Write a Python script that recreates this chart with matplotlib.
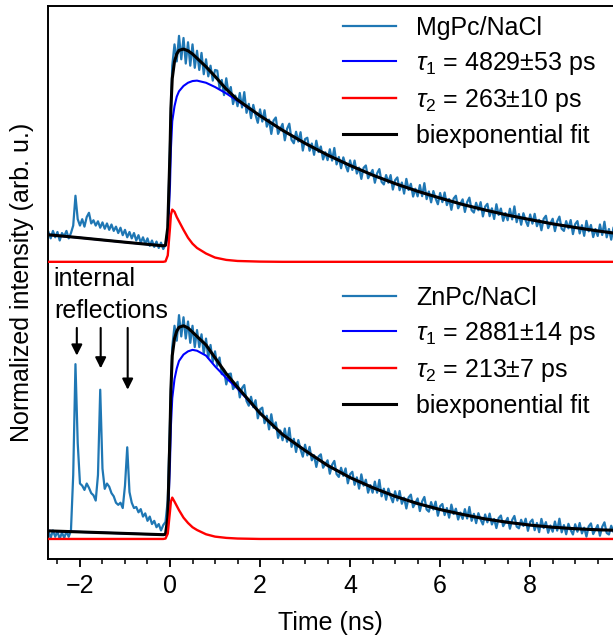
"""Time-resolved fluorescence of MgPc/NaCl and ZnPc/NaCl with biexponential fits."""

import matplotlib

matplotlib.use("Agg")
import matplotlib.pyplot as plt
import numpy as np

plt.rcParams["font.family"] = ["Liberation Sans", "DejaVu Sans"]
plt.rcParams["mathtext.fontset"] = "custom"
plt.rcParams["mathtext.rm"] = "Liberation Sans"
plt.rcParams["mathtext.it"] = "Liberation Sans:italic"
plt.rcParams["font.size"] = 18
plt.rcParams["path.simplify"] = False

STEP = 0.05  # ns per data channel
PRE_START, PEAK_START, DECAY_START = -2.70, -0.05, 1.05
OFFSET_MGPC = 1.30  # vertical offset of upper trace

# --- measured traces (normalized intensity), three consecutive segments ---
MGPC_PRE = [
    0.14, 0.11, 0.145, 0.115, 0.14, 0.10, 0.135, 0.12, 0.145, 0.11,
    0.135, 0.17, 0.31, 0.20, 0.17, 0.20, 0.165, 0.21, 0.23, 0.18,
    0.195, 0.17, 0.19, 0.16, 0.185, 0.155, 0.18, 0.15, 0.175, 0.145,
    0.165, 0.135, 0.16, 0.125, 0.15, 0.115, 0.14, 0.11, 0.135, 0.10,
    0.125, 0.09, 0.115, 0.085, 0.11, 0.075, 0.10, 0.07, 0.095, 0.065,
    0.09, 0.06, 0.08,
]
MGPC_PEAK = [
    0.15, 0.55, 0.92, 1.02, 0.94, 1.06, 0.95, 1.05, 0.93, 1.03,
    0.92, 1.02, 0.91, 0.99, 0.90, 0.98, 0.88, 0.95, 0.87, 0.92,
    0.85, 0.90,
]
MGPC_DECAY = [
    0.897, 0.815, 0.853, 0.782, 0.861, 0.79, 0.82, 0.74, 0.78, 0.73,
    0.792, 0.724, 0.796, 0.699, 0.741, 0.674, 0.736, 0.689, 0.652, 0.715,
    0.658, 0.711, 0.634, 0.667, 0.60, 0.663, 0.677, 0.60, 0.623, 0.647,
    0.57, 0.624, 0.648, 0.572, 0.556, 0.61, 0.564, 0.608, 0.522, 0.576,
    0.582, 0.521, 0.555, 0.502, 0.568, 0.515, 0.541, 0.48, 0.514, 0.477,
    0.528, 0.475, 0.534, 0.457, 0.492, 0.439, 0.49, 0.453, 0.424, 0.476,
    0.431, 0.475, 0.414, 0.442, 0.389, 0.441, 0.452, 0.392, 0.411, 0.431,
    0.371, 0.415, 0.435, 0.375, 0.363, 0.407, 0.371, 0.407, 0.339, 0.383,
    0.396, 0.336, 0.372, 0.32, 0.389, 0.337, 0.366, 0.306, 0.343, 0.307,
    0.36, 0.308, 0.369, 0.294, 0.33, 0.279, 0.332, 0.297, 0.27, 0.323,
    0.28, 0.325, 0.266, 0.295, 0.244, 0.297, 0.31, 0.251, 0.272, 0.293,
    0.234, 0.28, 0.301, 0.242, 0.231, 0.277, 0.242, 0.28, 0.213, 0.259,
    0.272, 0.214, 0.251, 0.201, 0.27, 0.22, 0.25, 0.192, 0.229, 0.195,
    0.249, 0.199, 0.26, 0.186, 0.224, 0.174, 0.228, 0.194, 0.168, 0.222,
    0.179, 0.225, 0.167, 0.197, 0.148, 0.202, 0.216, 0.158, 0.18, 0.202,
    0.144, 0.19, 0.212, 0.155, 0.145, 0.191, 0.157, 0.196, 0.13, 0.177,
    0.191, 0.133, 0.172, 0.122, 0.192, 0.143, 0.173, 0.116, 0.154, 0.121,
    0.175, 0.126, 0.188, 0.115, 0.154, 0.104, 0.159,
]

ZNPC_PRE = [
    0.035, 0.005, 0.04, 0.01, 0.035, 0.0, 0.03, 0.005, 0.035, 0.01,
    0.04, 0.30, 0.82, 0.45, 0.26, 0.25, 0.23, 0.26, 0.24, 0.215,
    0.205, 0.18, 0.30, 0.70, 0.33, 0.235, 0.26, 0.245, 0.215, 0.20,
    0.17, 0.16, 0.17, 0.145, 0.25, 0.43, 0.22, 0.17, 0.145, 0.15,
    0.125, 0.14, 0.105, 0.12, 0.085, 0.105, 0.07, 0.085, 0.055, 0.07,
    0.04, 0.065, 0.08,
]
ZNPC_PEAK = [
    0.18, 0.55, 0.90, 1.00, 0.93, 1.05, 0.95, 1.04, 0.94, 1.02,
    0.92, 1.00, 0.90, 0.98, 0.90, 0.96, 0.87, 0.94, 0.85, 0.91,
    0.83, 0.88,
]
ZNPC_DECAY = [
    0.812, 0.851, 0.773, 0.794, 0.725, 0.773, 0.776, 0.703, 0.72, 0.737,
    0.664, 0.708, 0.722, 0.647, 0.625, 0.667, 0.618, 0.651, 0.566, 0.608,
    0.616, 0.543, 0.578, 0.514, 0.585, 0.521, 0.547, 0.474, 0.509, 0.463,
    0.518, 0.456, 0.521, 0.432, 0.47, 0.408, 0.464, 0.421, 0.386, 0.442,
    0.392, 0.432, 0.369, 0.393, 0.338, 0.387, 0.397, 0.334, 0.351, 0.369,
    0.306, 0.348, 0.366, 0.304, 0.291, 0.334, 0.296, 0.331, 0.261, 0.304,
    0.315, 0.254, 0.289, 0.236, 0.303, 0.25, 0.278, 0.217, 0.253, 0.217,
    0.269, 0.217, 0.277, 0.20, 0.236, 0.184, 0.236, 0.20, 0.172, 0.224,
    0.18, 0.225, 0.165, 0.194, 0.143, 0.195, 0.208, 0.149, 0.169, 0.19,
    0.131, 0.176, 0.197, 0.138, 0.128, 0.173, 0.138, 0.175, 0.109, 0.154,
    0.164, 0.112, 0.145, 0.10, 0.161, 0.117, 0.142, 0.091, 0.124, 0.094,
    0.14, 0.096, 0.15, 0.085, 0.118, 0.074, 0.121, 0.091, 0.068, 0.115,
    0.078, 0.119, 0.068, 0.094, 0.051, 0.098, 0.11, 0.06, 0.079, 0.099,
    0.048, 0.089, 0.108, 0.058, 0.05, 0.09, 0.061, 0.095, 0.038, 0.079,
    0.091, 0.041, 0.075, 0.032, 0.094, 0.051, 0.079, 0.029, 0.063, 0.034,
    0.082, 0.039, 0.095, 0.031, 0.065, 0.022, 0.071, 0.042, 0.021, 0.069,
    0.034, 0.075, 0.026, 0.053, 0.011, 0.059, 0.073, 0.023, 0.044, 0.065,
    0.015, 0.057, 0.078, 0.028, 0.021, 0.062, 0.034,
]

# --- fitted curves, sampled at FIT_T ---
FIT_T = [
    -2.71, -2.00, -1.00, -0.15, -0.10, -0.05, 0.00, 0.02, 0.05, 0.10,
    0.15, 0.20, 0.30, 0.40, 0.50, 0.60, 0.80, 1.00, 1.25, 1.50,
    2.00, 2.50, 3.00, 3.50, 4.00, 4.50, 5.00, 5.50, 6.00, 6.50,
    7.00, 7.50, 8.00, 8.50, 9.00, 9.50, 9.85,
]
MGPC_FIT = [
    0.127, 0.113, 0.092, 0.075, 0.078, 0.16, 0.52, 0.72, 0.86, 0.94,
    0.975, 0.992, 0.998, 0.99, 0.975, 0.955, 0.915, 0.87, 0.81, 0.76,
    0.685, 0.617, 0.556, 0.501, 0.452, 0.407, 0.367, 0.331, 0.299, 0.269,
    0.243, 0.219, 0.198, 0.178, 0.161, 0.145, 0.135,
]
MGPC_TAU1 = [
    0.127, 0.113, 0.092, 0.075, 0.076, 0.12, 0.36, 0.53, 0.66, 0.73,
    0.775, 0.80, 0.825, 0.84, 0.848, 0.85, 0.84, 0.82, 0.79, 0.755,
    0.685, 0.617, 0.556, 0.501, 0.452, 0.407, 0.367, 0.331, 0.299, 0.269,
    0.243, 0.219, 0.198, 0.178, 0.161, 0.145, 0.135,
]
MGPC_TAU2 = [
    0.0, 0.0, 0.0, 0.0, 0.002, 0.03, 0.16, 0.22, 0.245, 0.235,
    0.21, 0.19, 0.15, 0.113, 0.085, 0.065, 0.039, 0.02, 0.009, 0.004,
    0.001, 0.0, 0.0, 0.0, 0.0, 0.0, 0.0, 0.0, 0.0, 0.0,
    0.0, 0.0, 0.0, 0.0, 0.0, 0.0, 0.0,
]
ZNPC_FIT = [
    0.038, 0.033, 0.026, 0.02, 0.022, 0.10, 0.50, 0.70, 0.86, 0.94,
    0.975, 0.993, 1.0, 0.99, 0.97, 0.95, 0.91, 0.85, 0.775, 0.712,
    0.59, 0.49, 0.415, 0.345, 0.288, 0.241, 0.20, 0.166, 0.138, 0.115,
    0.094, 0.078, 0.065, 0.055, 0.048, 0.043, 0.041,
]
ZNPC_TAU1 = [
    0.038, 0.033, 0.026, 0.02, 0.021, 0.07, 0.36, 0.53, 0.66, 0.75,
    0.80, 0.835, 0.865, 0.88, 0.887, 0.883, 0.86, 0.81, 0.755, 0.705,
    0.59, 0.49, 0.415, 0.345, 0.288, 0.241, 0.20, 0.166, 0.138, 0.115,
    0.094, 0.078, 0.065, 0.055, 0.048, 0.043, 0.041,
]
ZNPC_TAU2 = [
    0.0, 0.0, 0.0, 0.0, 0.002, 0.025, 0.13, 0.175, 0.194, 0.175,
    0.155, 0.135, 0.10, 0.075, 0.055, 0.042, 0.022, 0.011, 0.005, 0.002,
    0.0, 0.0, 0.0, 0.0, 0.0, 0.0, 0.0, 0.0, 0.0, 0.0,
    0.0, 0.0, 0.0, 0.0, 0.0, 0.0, 0.0,
]

MGPC_LABELS = ["MgPc/NaCl", r"$\tau_1$ = 4829±53 ps", r"$\tau_2$ = 263±10 ps", "biexponential fit"]
ZNPC_LABELS = ["ZnPc/NaCl", r"$\tau_1$ = 2881±14 ps", r"$\tau_2$ = 213±7 ps", "biexponential fit"]
REFLECTION_T = [-2.07, -1.54, -0.94]
REFLECTION_TIP = [0.86, 0.80, 0.70]


def trace(pre, peak, decay):
    """Join the three measured segments into (time, value) arrays."""

    t, y = [], []
    for start, seg in ((PRE_START, pre), (PEAK_START, peak), (DECAY_START, decay)):
        t.extend(start + STEP * np.arange(len(seg)))
        y.extend(seg)
    return np.array(t), np.array(y)


def draw_set(ax, data, fit, tau1, tau2, labels, offset):
    t, y = data
    ft = np.array(FIT_T, dtype=float)
    h_data, = ax.plot(t, y + offset, color="#1f77b4", lw=1.6, zorder=2)
    h_blue, = ax.plot(ft, np.array(tau1) + offset, color="blue", lw=1.5, zorder=3)
    h_red, = ax.plot(ft, np.array(tau2) + offset, color="red", lw=1.7, zorder=5)
    h_fit, = ax.plot(ft, np.array(fit) + offset, color="black", lw=2.2, zorder=4)
    return [h_data, h_blue, h_red, h_fit], labels


def main():
    fig = plt.figure(figsize=(6.13, 6.35), dpi=100)
    ax = fig.add_axes([48 / 613, 76 / 635, 1 - 48 / 613, 553 / 635])

    mg = draw_set(ax, trace(MGPC_PRE, MGPC_PEAK, MGPC_DECAY), MGPC_FIT, MGPC_TAU1, MGPC_TAU2,
                  MGPC_LABELS, OFFSET_MGPC)
    zn = draw_set(ax, trace(ZNPC_PRE, ZNPC_PEAK, ZNPC_DECAY), ZNPC_FIT, ZNPC_TAU1, ZNPC_TAU2,
                  ZNPC_LABELS, 0.0)

    leg_kw = dict(loc="upper right", frameon=False, handlelength=2.15, handletextpad=0.8,
                  labelspacing=0.4, borderaxespad=0.0, borderpad=0.4)
    leg1 = ax.legend(*mg, bbox_to_anchor=(0.988, 1.0), **leg_kw)
    ax.add_artist(leg1)
    ax.legend(*zn, bbox_to_anchor=(0.988, 0.512), **leg_kw)

    ax.text(-2.58, 1.22, "internal", ha="left", va="center")
    ax.text(-2.58, 1.07, "reflections", ha="left", va="center")
    for xt, yt in zip(REFLECTION_T, REFLECTION_TIP):
        ax.annotate("", xy=(xt, yt), xytext=(xt, 0.99),
                    arrowprops=dict(arrowstyle="-|>", color="black", lw=1.5, mutation_scale=16,
                                    shrinkA=0, shrinkB=0))

    ax.set_xlim(-2.71, 9.84)
    ax.set_ylim(-0.094, 2.50)
    ax.set_yticks([])
    ax.set_xticks([-2, 0, 2, 4, 6, 8])
    ax.set_xticks(np.arange(-2.5, 9.9, 0.5), minor=True)
    ax.tick_params(axis="x", which="major", length=6, width=1.3, pad=5, direction="out")
    ax.tick_params(axis="x", which="minor", length=3.6, width=1.1, direction="out")
    for side in ("left", "top", "bottom"):
        ax.spines[side].set_linewidth(1.4)
    ax.spines["right"].set_visible(False)
    ax.set_xlabel("Time (ns)", labelpad=9)
    ax.set_ylabel("Normalized intensity (arb. u.)", labelpad=10)

    fig.savefig("out.png", dpi=100, facecolor="white")
    plt.close(fig)


if __name__ == "__main__":
    main()
